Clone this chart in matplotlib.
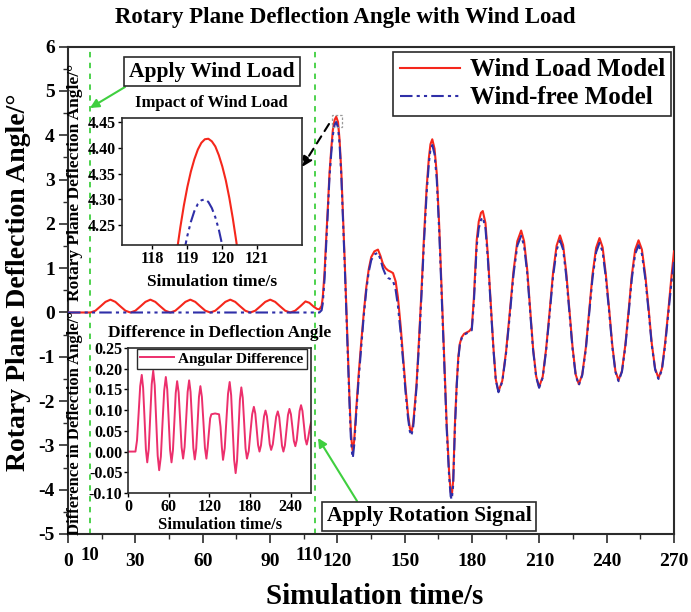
import matplotlib
matplotlib.use('Agg')
import matplotlib.pyplot as plt
from matplotlib.patches import Rectangle, FancyArrowPatch
from matplotlib.ticker import MultipleLocator, FixedLocator

plt.rcParams['font.family'] = ['Liberation Serif', 'DejaVu Serif']
plt.rcParams['font.weight'] = 'bold'
plt.rcParams['axes.labelweight'] = 'bold'

# ---------------- data ----------------
# wind-load model before the rotation signal (s, deg)
t_pre = [0, 10, 12.2, 14.5, 16.7, 18.9, 21.1, 23.3, 25.6, 27.8,
         30.0, 32.3, 34.5, 36.7, 38.9, 41.1, 43.4, 45.6,
         47.8, 50.1, 52.3, 54.5, 56.7, 58.9, 61.2, 63.4,
         65.6, 67.9, 70.1, 72.3, 74.5, 76.7, 79.0, 81.2,
         83.4, 85.7, 87.9, 90.1, 92.3, 94.5, 96.8, 99.0,
         101.2, 103.5, 105.8, 107.5, 109.5, 111.0]
v_wind_pre = [0, 0, 0.04, 0.14, 0.24, 0.29, 0.24, 0.14, 0.04, 0,
              0.04, 0.14, 0.24, 0.29, 0.24, 0.14, 0.04, 0,
              0.04, 0.14, 0.24, 0.29, 0.24, 0.14, 0.04, 0,
              0.04, 0.14, 0.24, 0.29, 0.24, 0.14, 0.04, 0,
              0.04, 0.14, 0.24, 0.29, 0.24, 0.14, 0.04, 0,
              0.04, 0.14, 0.25, 0.22, 0.13, 0.08]

# after the rotation signal, both models
t_dyn = [112.0, 113.0, 113.5, 114.3, 115.0, 115.8, 116.5, 117.3, 118.0, 118.8,
         119.5, 120.3, 121.0, 121.8, 122.5, 123.3, 124.0, 124.7, 125.4, 126.0,
         126.6, 126.9, 127.5, 128.4, 129.5, 130.6, 131.7, 132.9, 134.0, 135.1,
         136.5, 138.1, 139.2, 140.3, 141.5, 142.6, 143.8, 144.8, 146.0, 147.0,
         148.2, 149.3, 150.4, 151.5, 152.3, 153.0, 153.8, 154.5, 155.3, 156.4,
         157.5, 158.6, 159.8, 160.8, 161.5, 162.3, 163.3, 164.3, 165.4, 166.5,
         167.6, 168.7, 169.8, 170.5, 171.0, 171.6, 172.4, 173.2, 173.9, 174.6,
         175.4, 176.5, 177.6, 178.8, 179.9, 180.8, 181.5, 182.1, 183.0, 184.0,
         184.8, 186.0, 187.1, 188.3, 189.5, 190.6, 191.8, 193.5, 195.2, 196.9,
         198.5, 200.2, 201.9, 203.2, 204.6, 205.9, 207.2, 208.6, 209.9, 211.5,
         213.0, 214.6, 216.1, 217.7, 219.2, 220.6, 222.0, 223.4, 224.8, 226.2,
         227.6, 229.1, 230.7, 232.2, 233.7, 235.3, 236.8, 238.2, 239.6, 241.1,
         242.5, 243.9, 245.3, 246.8, 248.3, 249.8, 251.2, 252.7, 254.2, 255.7,
         257.2, 258.7, 260.1, 261.6, 263.1, 264.6, 266.0, 267.5, 268.9, 270.0]
v_wind_dyn = [0.07, 0.15, 0.34, 0.90, 1.63, 2.40, 3.14, 3.70, 4.12, 4.35,
              4.42, 4.30, 3.90, 3.15, 2.23, 1.15, 0.12, -0.95, -1.92, -2.65,
              -3.05, -3.12, -2.90, -2.20, -1.40, -0.70, -0.05, 0.57, 0.98, 1.25,
              1.38, 1.42, 1.28, 1.10, 1.00, 0.95, 0.92, 0.89, 0.70, 0.34,
              -0.30, -1.00, -1.70, -2.30, -2.60, -2.71, -2.50, -2.10, -1.60, -0.60,
              0.50, 1.70, 2.83, 3.50, 3.80, 3.91, 3.70, 3.14, 1.95, 0.50,
              -1.00, -2.50, -3.60, -4.05, -4.13, -3.80, -2.50, -1.60, -1.00, -0.70,
              -0.56, -0.48, -0.45, -0.42, -0.35, 0.30, 1.00, 1.63, 2.05, 2.25,
              2.29, 2.02, 1.27, 0.26, -0.76, -1.51, -1.78, -1.54, -0.87, 0.04,
              0.94, 1.61, 1.85, 1.61, 0.97, 0.09, -0.80, -1.44, -1.68, -1.45,
              -0.83, 0.03, 0.89, 1.51, 1.74, 1.52, 0.90, 0.06, -0.78, -1.40,
              -1.62, -1.40, -0.80, 0.03, 0.86, 1.46, 1.68, 1.47, 0.88, 0.08,
              -0.73, -1.32, -1.53, -1.32, -0.74, 0.05, 0.84, 1.42, 1.63, 1.42,
              0.85, 0.08, -0.70, -1.27, -1.48, -1.27, -0.71, 0.06, 0.83, 1.38]
v_free_dyn = [0.00, 0.05, 0.20, 0.75, 1.50, 2.30, 3.05, 3.60, 4.00, 4.24,
              4.30, 4.18, 3.80, 3.05, 2.13, 1.05, 0.02, -1.05, -2.02, -2.80,
              -3.20, -3.28, -3.00, -2.30, -1.50, -0.80, -0.12, 0.50, 0.92, 1.18,
              1.31, 1.35, 1.20, 1.00, 0.85, 0.78, 0.75, 0.72, 0.50, 0.15,
              -0.45, -1.10, -1.80, -2.38, -2.68, -2.78, -2.58, -2.18, -1.68, -0.70,
              0.40, 1.58, 2.70, 3.38, 3.68, 3.78, 3.58, 3.00, 1.82, 0.38,
              -1.10, -2.60, -3.70, -4.15, -4.22, -3.90, -2.60, -1.65, -1.05, -0.72,
              -0.58, -0.50, -0.47, -0.44, -0.40, 0.20, 0.90, 1.50, 1.90, 2.09,
              2.15, 1.90, 1.18, 0.19, -0.80, -1.53, -1.80, -1.56, -0.91, -0.03,
              0.86, 1.51, 1.73, 1.51, 0.89, 0.03, -0.84, -1.46, -1.70, -1.47,
              -0.87, -0.03, 0.81, 1.41, 1.63, 1.42, 0.82, 0.00, -0.82, -1.42,
              -1.64, -1.42, -0.84, -0.03, 0.78, 1.36, 1.57, 1.37, 0.80, 0.02,
              -0.77, -1.34, -1.55, -1.34, -0.78, -0.01, 0.76, 1.32, 1.52, 1.32,
              0.77, 0.02, -0.74, -1.29, -1.50, -1.30, -0.76, 0.00, 0.70, 1.15]
t_free_pre = [0]
v_free_pre = [0.0]

# zoomed peak (inset 1)
t_zoom_wind = [118.6, 118.7, 118.8, 118.9, 119.0, 119.1, 119.2, 119.3, 119.4, 119.5,
               119.6, 119.7, 119.8, 119.9, 120.0, 120.1, 120.2, 120.3, 120.4, 120.5]
v_zoom_wind = [4.145, 4.199, 4.246, 4.288, 4.324, 4.354, 4.378, 4.397, 4.410, 4.417,
               4.418, 4.413, 4.403, 4.386, 4.364, 4.337, 4.303, 4.263, 4.218, 4.167]
t_zoom_free = [118.9, 119.0, 119.1, 119.2, 119.3, 119.4, 119.5, 119.6, 119.7, 119.8,
               119.9, 120.0, 120.1]
v_zoom_free = [4.196, 4.229, 4.256, 4.277, 4.291, 4.298, 4.300, 4.295, 4.283, 4.265,
               4.241, 4.210, 4.173]

# angular difference (inset 2)
t_diff = [0, 11.0, 13.3, 15.7, 18.0, 20.3, 22.3, 24.4, 26.4, 28.4,
          30.6, 32.8, 35.0, 37.2, 39.4, 41.6, 43.8, 46.0, 48.5, 50.9,
          53.4, 55.8, 57.9, 60.0, 62.1, 64.2, 66.3, 68.4, 70.4, 72.5,
          74.7, 76.9, 79.1, 81.3, 83.5, 85.8, 88.0, 90.2, 92.3, 94.4,
          96.4, 98.5, 100.6, 102.7, 104.7, 106.8, 109.0, 111.3, 113.5, 115.7,
          117.5, 119.3, 121.2, 123.0, 128.5, 134.3, 136.5, 138.5, 140.2,
          142.7, 145.1, 147.6, 150.0, 152.2, 154.4, 156.6, 158.8,
          160.9, 163.0, 165.1, 167.2, 169.3, 171.4, 173.4, 175.5,
          178.1, 180.6, 183.2, 185.7, 187.8, 189.9, 191.9, 194.0,
          196.2, 198.5, 200.7, 202.9, 205.0, 207.1, 209.1, 211.2,
          213.7, 216.1, 218.6, 221.0, 223.1, 225.2, 227.2, 229.3,
          231.5, 233.8, 236.0, 238.2, 240.4, 242.6, 244.7, 246.9,
          249.0, 251.1, 253.2, 255.3, 257.4, 259.5, 261.6, 263.7,
          265.5, 268.6, 270.0]
v_diff = [0, 0, 0.027, 0.093, 0.158, 0.185, 0.154, 0.080, 0.005, -0.026,
          0.006, 0.085, 0.163, 0.195, 0.160, 0.075, -0.010, -0.045, -0.012, 0.068,
          0.147, 0.180, 0.150, 0.077, 0.004, -0.026, 0.003, 0.072, 0.141, 0.170,
          0.143, 0.077, 0.010, -0.017, 0.011, 0.078, 0.144, 0.172, 0.144, 0.077,
          0.009, -0.019, 0.007, 0.070, 0.132, 0.158, 0.132, 0.071, 0.009, -0.017,
          0.010, 0.045, 0.080, 0.090, 0.092, 0.090, 0.060, 0.010, -0.020,
          0.008, 0.074, 0.140, 0.168, 0.136, 0.058, -0.020, -0.052,
          -0.022, 0.052, 0.125, 0.155, 0.130, 0.069, 0.008, -0.017,
          0.001, 0.046, 0.090, 0.108, 0.092, 0.054, 0.016, 0.000,
          0.015, 0.050, 0.085, 0.099, 0.085, 0.052, 0.018, 0.004,
          0.018, 0.051, 0.084, 0.097, 0.083, 0.049, 0.014, 0.000,
          0.015, 0.052, 0.088, 0.103, 0.090, 0.058, 0.026, 0.013,
          0.028, 0.063, 0.098, 0.112, 0.098, 0.065, 0.031, 0.017,
          0.030, 0.060, 0.070]

main_xticks = [0, 30, 60, 90, 120, 150, 180, 210, 240, 270]
extra_xticks = [10, 110]
main_yticks = [-5, -4, -3, -2, -1, 0, 1, 2, 3, 4, 5, 6]
zoom_xticks = [118, 119, 120, 121]
zoom_yticks = [4.25, 4.30, 4.35, 4.40, 4.45]
diff_xticks = [0, 60, 120, 180, 240]
diff_yticks = [-0.10, -0.05, 0.00, 0.05, 0.10, 0.15, 0.20, 0.25]

# ---------------- styling ----------------
RED = '#f5271c'
BLUE = '#2f2fa8'
PINK = '#ec2f6c'
GREEN = '#3fcf3f'
EDGE = '#2b2b2b'
DDOT = (0, (6, 2, 1.5, 2, 1.5, 2))

W, H = 691, 612
fig = plt.figure(figsize=(W / 100, H / 100), dpi=100)


def fx(px):
    return px / W


def fy(py):
    return 1 - py / H


def box(l, t, r, b):
    return [fx(l), fy(b), fx(r) - fx(l), fy(t) - fy(b)]


# ---------------- main axes ----------------
ax = fig.add_axes(box(68, 46.7, 674, 534))
ax.plot(t_pre + t_dyn, v_wind_pre + v_wind_dyn, color=RED, lw=1.5,
        label='Wind Load Model', zorder=3)
ax.plot(t_free_pre + t_dyn, v_free_pre + v_free_dyn, color=BLUE, lw=1.5,
        ls=DDOT, label='Wind-free Model', zorder=4)
for xv in extra_xticks:
    ax.axvline(xv, color=GREEN, lw=1.3, ls=(0, (3, 3)), zorder=2)

ax.set_xlim(0, 270)
ax.set_ylim(-5, 6)
ax.xaxis.set_major_locator(FixedLocator(main_xticks))
ax.xaxis.set_minor_locator(MultipleLocator(15))
ax.yaxis.set_major_locator(FixedLocator(main_yticks))
ax.yaxis.set_minor_locator(MultipleLocator(0.5))
ax.set_xticklabels([str(v) for v in main_xticks])
ax.set_yticklabels([str(v) for v in main_yticks])
ax.tick_params(which='major', direction='out', length=6.5, width=1.2,
               labelsize=14, color=EDGE)
ax.tick_params(axis='x', which='major', pad=7)
ax.tick_params(axis='y', which='major', pad=3)
ax.tick_params(which='minor', direction='out', length=3.5, width=1.0, color=EDGE)
for s in ax.spines.values():
    s.set_linewidth(1.5)
    s.set_color(EDGE)
# raised extra tick labels (10 and 110)
extra_pos_px = {10: 90, 110: 309}
for xv in extra_xticks:
    fig.text(fx(extra_pos_px[xv]), fy(555), str(xv), ha='center', va='center',
             fontsize=13.5, fontweight='bold')

leg = ax.legend(loc='upper right', bbox_to_anchor=(fx(671), fy(52)),
                bbox_transform=fig.transFigure, fontsize=18, frameon=True,
                fancybox=False, edgecolor=EDGE, framealpha=1,
                handlelength=2.4, handletextpad=0.4, borderpad=0.25,
                labelspacing=0.2, borderaxespad=0)
leg.get_frame().set_linewidth(1.2)

# zoom marker
ax.add_patch(Rectangle((117.6, 4.18), 4.5, 0.275, fill=False, ec='#9a9a9a',
                       lw=0.9, ls=(0, (2, 1.5)), zorder=5))

fig.text(fx(345), fy(18), 'Rotary Plane Deflection Angle with Wind Load',
         ha='center', va='center', fontsize=16.5, fontweight='bold')
fig.text(fx(375), fy(597), 'Simulation time/s', ha='center', va='center',
         fontsize=21, fontweight='bold')
fig.text(fx(19), fy(282), 'Rotary Plane Deflection Angle/°', ha='center',
         va='center', rotation=90, fontsize=20, fontweight='bold')

# ---------------- inset 1 ----------------
ax1 = fig.add_axes(box(122, 117.7, 302, 245))
ax1.plot(t_zoom_wind, v_zoom_wind, color=RED, lw=1.5)
ax1.plot(t_zoom_free, v_zoom_free, color=BLUE, lw=1.5, ls=DDOT)
ax1.set_xlim(117.13, 122.28)
ax1.set_ylim(4.211, 4.459)
ax1.xaxis.set_major_locator(FixedLocator(zoom_xticks))
ax1.yaxis.set_major_locator(FixedLocator(zoom_yticks))
ax1.set_xticklabels([str(v) for v in zoom_xticks])
ax1.set_yticklabels(['%.2f' % v for v in zoom_yticks])
ax1.tick_params(direction='out', length=3, width=1.0, labelsize=11.5, pad=1.5)
for s in ax1.spines.values():
    s.set_linewidth(1.2)
    s.set_color(EDGE)
fig.text(fx(211), fy(103), 'Impact of Wind Load', ha='center', va='center',
         fontsize=12, fontweight='bold')
fig.text(fx(212), fy(282), 'Simulation time/s', ha='center', va='center',
         fontsize=12.5, fontweight='bold')
fig.text(fx(75), fy(182), 'Rotary Plane Deflection Angle/°', ha='center',
         va='center', rotation=90, fontsize=12.5, fontweight='bold')

# ---------------- inset 2 ----------------
ax2 = fig.add_axes(box(128, 348, 311, 493))
ax2.plot(t_diff, v_diff, color=PINK, lw=1.4, label='Angular Difference')
ax2.set_xlim(0, 270)
ax2.set_ylim(-0.10, 0.25)
ax2.xaxis.set_major_locator(FixedLocator(diff_xticks))
ax2.yaxis.set_major_locator(FixedLocator(diff_yticks))
ax2.set_xticklabels([str(v) for v in diff_xticks])
ax2.set_yticklabels(['%.2f' % v for v in diff_yticks])
ax2.tick_params(direction='out', length=3, width=1.0, labelsize=11.5, pad=1)
for s in ax2.spines.values():
    s.set_linewidth(1.2)
    s.set_color(EDGE)
leg2 = ax2.legend(loc='upper left', bbox_to_anchor=(fx(137), fy(349)),
                  bbox_transform=fig.transFigure, fontsize=11, frameon=True,
                  fancybox=False, edgecolor=EDGE, framealpha=1,
                  handlelength=2.2, handletextpad=0.3, borderpad=0.2,
                  borderaxespad=0)
leg2.get_frame().set_linewidth(1.0)
fig.text(fx(220), fy(333), 'Difference in Deflection Angle', ha='center',
         va='center', fontsize=12.5, fontweight='bold')
fig.text(fx(220), fy(525), 'Simulation time/s', ha='center', va='center',
         fontsize=12, fontweight='bold')
fig.text(fx(75), fy(423), 'Difference in Deflection Angle/°', ha='center',
         va='center', rotation=90, fontsize=12, fontweight='bold')

# ---------------- annotations ----------------
bbox_kw = dict(boxstyle='square,pad=0.22', fc='white', ec=EDGE, lw=1.2)
fig.text(fx(212), fy(71.5), 'Apply Wind Load', ha='center', va='center',
         fontsize=15.5, fontweight='bold', bbox=bbox_kw)
fig.text(fx(429), fy(516.5), 'Apply Rotation Signal', ha='center', va='center',
         fontsize=15.5, fontweight='bold', bbox=bbox_kw)
arrow_kw = dict(arrowstyle='-|>', color=GREEN, lw=1.5, mutation_scale=13,
                shrinkA=0, shrinkB=0)
fig.add_artist(FancyArrowPatch((fx(125), fy(87)), (fx(90), fy(108)),
                               transform=fig.transFigure, **arrow_kw))
fig.add_artist(FancyArrowPatch((fx(357), fy(501)), (fx(318), fy(438)),
                               transform=fig.transFigure, **arrow_kw))
fig.add_artist(FancyArrowPatch((fx(329), fy(124)), (fx(302), fy(167)),
                               transform=fig.transFigure, arrowstyle='-|>',
                               color='black', lw=1.5, ls=(0, (4, 3)),
                               mutation_scale=15, shrinkA=0, shrinkB=0))

fig.savefig('out.png', dpi=100)
